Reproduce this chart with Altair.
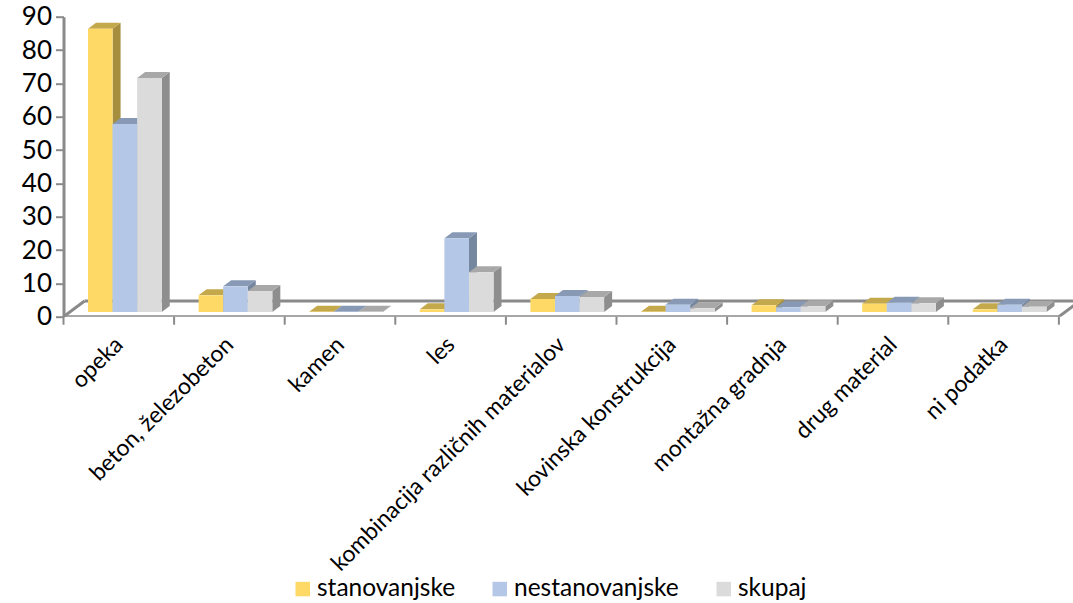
import json

import altair as alt
import pandas as pd

FONT = "Lato"

categories = [
    "opeka", "beton, železobeton", "kamen", "les",
    "kombinacija različnih materialov", "kovinska konstrukcija",
    "montažna gradnja", "drug material", "ni podatka",
]
series = ["stanovanjske", "nestanovanjske", "skupaj"]
stanovanjske = [85.0, 5.0, 0.1, 0.8, 3.9, 0.1, 2.0, 2.5, 0.8]
nestanovanjske = [56.4, 7.7, 0.1, 22.1, 4.8, 2.2, 1.4, 2.8, 2.2]
skupaj = [70.2, 6.3, 0.1, 11.9, 4.5, 1.1, 1.7, 2.6, 1.6]
values_by_series = [stanovanjske, nestanovanjske, skupaj]

front_colors = ["#FFD966", "#B4C7E7", "#DBDBDB"]
top_colors = ["#C4A84C", "#8799B5", "#A8A8A8"]
side_colors = ["#A68E3E", "#75869F", "#8E8E8E"]

# Pseudo-3D geometry, in axis units
BAR_WIDTH = 0.2222
GROUP_START = 0.2215
DEPTH_X = 0.0723
DEPTH_Y = 1.8
BAR_BASE = 1.4
FLOOR_X = 0.19
FLOOR_Y = 4.7
X_MAX = 1009.5 / 110.6
AXIS_GRAY = "#8A8A8A"

x_scale = alt.Scale(domain=[0, X_MAX], nice=False, zero=False)
y_scale = alt.Scale(domain=[0, 90], nice=False, zero=False)

# Value axis on the left, category names rotated under each group
x_axis = alt.Axis(
    title=None,
    values=[i + 0.5 for i in range(9)],
    labelExpr=json.dumps(categories, ensure_ascii=False) + "[round(datum.value - 0.5)]",
    labelAngle=-45,
    labelAlign="right",
    labelBaseline="middle",
    labelFont=FONT,
    labelFontSize=23,
    labelColor="#000000",
    labelPadding=24,
    labelLimit=500,
    labelOverlap=False,
    labelFlush=False,
    labelBound=False,
    ticks=False,
    domain=False,
    grid=False,
)
y_axis = alt.Axis(
    title=None,
    values=list(range(0, 100, 10)),
    labelFont=FONT,
    labelFontSize=26,
    labelColor="#000000",
    labelPadding=4,
    tickSize=8,
    tickWidth=2,
    tickColor=AXIS_GRAY,
    domainColor=AXIS_GRAY,
    domainWidth=3,
    grid=False,
)
x_enc = alt.X("x:Q", scale=x_scale, axis=x_axis)
y_enc = alt.Y("y:Q", scale=y_scale, axis=y_axis)


def side_rows(left, right, value, key):
    top = BAR_BASE + value
    return [
        {"x": right, "y": BAR_BASE, "y2": top, "key": key},
        {"x": right + DEPTH_X, "y": BAR_BASE + DEPTH_Y, "y2": top + DEPTH_Y, "key": key},
    ]


def top_rows(left, right, value, key):
    top = BAR_BASE + value
    return [
        {"x": left, "y": top, "y2": top, "key": key},
        {"x": left + DEPTH_X, "y": top, "y2": top + DEPTH_Y, "key": key},
        {"x": right, "y": top, "y2": top + DEPTH_Y, "key": key},
        {"x": right + DEPTH_X, "y": top + DEPTH_Y, "y2": top + DEPTH_Y, "key": key},
    ]


# Walls and floor outline
back_line = pd.DataFrame({"x": [FLOOR_X, X_MAX], "y": [FLOOR_Y, FLOOR_Y]})
front_line = pd.DataFrame({"x": [0, 9], "y": [0, 0]})
left_edge = pd.DataFrame({"x": [0, FLOOR_X], "y": [0, FLOOR_Y]})
right_edge = pd.DataFrame({"x": [9, 9 + FLOOR_X], "y": [0, FLOOR_Y]})
layers = [
    alt.Chart(d).mark_line(color=AXIS_GRAY, strokeWidth=3, clip=True).encode(x=x_enc, y=y_enc)
    for d in (back_line, left_edge, right_edge, front_line)
]

# Category ticks below the floor
tick_data = pd.DataFrame({"x": list(range(10))})
layers.append(
    alt.Chart(tick_data).mark_rule(color=AXIS_GRAY, strokeWidth=2).encode(
        x=x_enc, y=alt.value(300), y2=alt.value(308)
    )
)

# Each series paints side, top, then front so the next series overlaps it
for s, (name, values) in enumerate(zip(series, values_by_series)):
    sides, tops, fronts = [], [], []
    for c, value in enumerate(values):
        left = c + GROUP_START + s * BAR_WIDTH
        right = left + BAR_WIDTH
        sides += side_rows(left, right, value, c)
        tops += top_rows(left, right, value, c)
        fronts.append({"x": left, "x2": right, "y": BAR_BASE + value, "y2": BAR_BASE, "series": name})
    layers.append(
        alt.Chart(pd.DataFrame(sides)).mark_area(color=side_colors[s], orient="vertical").encode(
            x=x_enc, y=y_enc, y2="y2:Q", detail="key:N"
        )
    )
    layers.append(
        alt.Chart(pd.DataFrame(tops)).mark_area(color=top_colors[s], orient="vertical").encode(
            x=x_enc, y=y_enc, y2="y2:Q", detail="key:N"
        )
    )
    layers.append(
        alt.Chart(pd.DataFrame(fronts)).mark_bar().encode(
            x=x_enc,
            x2="x2:Q",
            y=y_enc,
            y2="y2:Q",
            color=alt.Color(
                "series:N",
                scale=alt.Scale(domain=series, range=front_colors),
                legend=alt.Legend(
                    title=None,
                    orient="none",
                    direction="horizontal",
                    legendX=227,
                    legendY=560,
                    columns=3,
                    columnPadding=32,
                    symbolType="square",
                    symbolSize=210,
                    symbolStrokeWidth=0,
                    labelFont=FONT,
                    labelFontSize=24.5,
                    labelColor="#000000",
                    labelOffset=2,
                    labelLimit=400,
                ),
            ),
        )
    )

chart = alt.layer(*layers).properties(
    width=1009.5,
    height=300,
    padding={"left": 63.5, "top": 16.7, "right": 0, "bottom": 286},
    autosize=alt.AutoSizeParams(type="none"),
).configure_view(stroke=None)

chart.save("out.html", embed_options={"renderer": "svg", "actions": False})
